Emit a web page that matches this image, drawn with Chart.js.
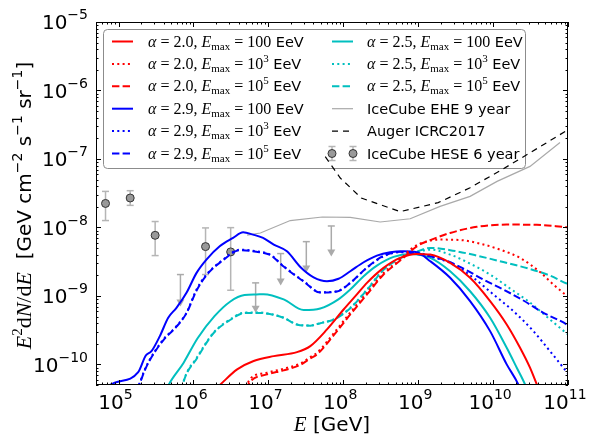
<!DOCTYPE html>
<html><head><meta charset="utf-8">
<script src="https://cdn.jsdelivr.net/npm/chart.js@4/dist/chart.umd.min.js"></script>
<style>html,body{margin:0;padding:0;background:#fff}canvas{display:block}</style>
</head><body>
<canvas id="c" width="590" height="435"></canvas>
<script>
// ---------------- data ----------------
const X_MIN = 5e4, X_MAX = 1e11, Y_MIN = 5e-11, Y_MAX = 1e-5;
const X_TICK_EXP = [5, 6, 7, 8, 9, 10, 11];
const Y_TICK_EXP = [-10, -9, -8, -7, -6, -5];

// alpha = 2.0
const E_a20_100 = [1.91e6, 2.29e6, 3.83e6, 6.36e6, 1.18e7, 2.41e7, 3.63e7, 6.06e7, 1.01e8, 1.52e8, 2.07e8, 3.45e8, 5.75e8, 9.6e8, 1.45e9, 2.67e9, 4.93e9, 9.12e9, 1.52e10, 2.29e10, 3.11e10, 3.83e10, 4.23e10];
const F_a20_100 = [4.27e-11, 5.1e-11, 8.45e-11, 1.12e-10, 1.32e-10, 1.51e-10, 1.85e-10, 3.24e-10, 6.33e-10, 1.05e-9, 1.55e-9, 2.57e-9, 3.59e-9, 4.1e-9, 4.01e-9, 3.03e-9, 1.84e-9, 8.4e-10, 3.83e-10, 1.75e-10, 8.95e-11, 5.1e-11, 3.9e-11];
const E_a20_1e3 = [5.0e6, 5.75e6, 9.6e6, 1.60e7, 2.67e7, 3.63e7, 4.46e7, 7.43e7, 1.24e8, 2.07e8, 3.45e8, 5.75e8, 7.82e8, 1.06e9, 1.96e9, 3.63e9, 6.71e9, 1.24e10, 2.29e10, 4.23e10, 6.36e10, 9.6e10, 1.1e11];
const F_a20_1e3 = [4.6e-11, 6.2e-11, 7.57e-11, 8.65e-11, 1.03e-10, 1.28e-10, 1.48e-10, 2.83e-10, 5.73e-10, 1.11e-9, 2.17e-9, 3.39e-9, 4.74e-9, 5.8e-9, 6.64e-9, 6.55e-9, 5.8e-9, 4.74e-9, 3.59e-9, 2.23e-9, 1.47e-9, 1.01e-9, 9.0e-10];
const E_a20_1e5 = [5.0e6, 5.75e6, 9.6e6, 1.60e7, 2.67e7, 3.63e7, 4.46e7, 7.43e7, 1.24e8, 2.07e8, 3.45e8, 5.75e8, 9.6e8, 1.45e9, 2.67e9, 6.06e9, 1.52e10, 3.83e10, 9.6e10, 1.1e11];
const F_a20_1e5 = [4.32e-11, 5.65e-11, 7.15e-11, 8.18e-11, 9.84e-11, 1.22e-10, 1.40e-10, 2.65e-10, 5.36e-10, 1.05e-9, 2.05e-9, 3.28e-9, 5.3e-9, 6.53e-9, 8.3e-9, 1.02e-8, 1.10e-8, 1.09e-8, 1.01e-8, 1.0e-8];

// alpha = 2.9
const E_a29_100 = [6.7e4, 8.9e4, 1.83e5, 2.31e5, 2.75e5, 3.56e5, 4.6e5, 5.93e5, 8.07e5, 1.10e6, 1.49e6, 2.24e6, 3.38e6, 4.6e6, 6.25e6, 8.49e6, 1.18e7, 1.77e7, 2.67e7, 4.02e7, 6.06e7, 8.65e7, 1.24e8, 1.87e8, 2.81e8, 4.23e8, 6.36e8, 9.6e8, 1.45e9, 2.67e9, 4.93e9, 9.12e9, 1.52e10, 2.17e10, 2.44e10];
const F_a29_100 = [4.7e-11, 5.41e-11, 7.72e-11, 1.35e-10, 1.56e-10, 2.59e-10, 4.8e-10, 6.7e-10, 1.11e-9, 2.17e-9, 3.39e-9, 5.3e-9, 7.03e-9, 8.5e-9, 7.85e-9, 7.03e-9, 5.61e-9, 4.48e-9, 2.65e-9, 1.87e-9, 1.64e-9, 1.78e-9, 2.29e-9, 3.10e-9, 3.88e-9, 4.34e-9, 4.48e-9, 4.34e-9, 3.21e-9, 1.84e-9, 8.4e-10, 3.06e-10, 1.0e-10, 5.1e-11, 3.66e-11];
const E_a29_1e3 = [1.74e5, 1.92e5, 2.24e5, 2.61e5, 3.95e5, 5.93e5, 8.07e5, 1.10e6, 1.49e6, 2.49e6, 4.14e6, 6.92e6, 1.06e7, 1.60e7, 2.96e7, 4.93e7, 8.24e7, 1.24e8, 2.07e8, 3.45e8, 5.75e8, 9.6e8, 1.45e9, 2.96e9, 5.46e9, 1.01e10, 1.87e10, 3.45e10, 5.75e10, 8.65e10, 1.05e11];
const F_a29_1e3 = [4.32e-11, 5.41e-11, 8.45e-11, 1.18e-10, 2.31e-10, 3.62e-10, 5.67e-10, 1.24e-9, 2.05e-9, 3.39e-9, 4.74e-9, 4.48e-9, 4.01e-9, 2.71e-9, 1.64e-9, 1.13e-9, 1.17e-9, 1.55e-9, 2.57e-9, 3.79e-9, 4.34e-9, 4.3e-9, 3.79e-9, 2.87e-9, 1.84e-9, 1.05e-9, 5.98e-10, 3.06e-10, 1.56e-10, 8.95e-11, 6.9e-11];
const E_a29_1e5 = [1.74e5, 1.92e5, 2.24e5, 2.61e5, 3.95e5, 5.93e5, 8.07e5, 1.10e6, 1.49e6, 2.49e6, 4.14e6, 6.92e6, 1.06e7, 1.60e7, 2.96e7, 4.93e7, 8.24e7, 1.24e8, 2.07e8, 3.45e8, 5.75e8, 1.06e9, 2.17e9, 4.02e9, 7.43e9, 1.37e10, 2.54e10, 4.69e10, 9.6e10, 1.1e11];
const F_a29_1e5 = [4.2e-11, 5.3e-11, 8.2e-11, 1.15e-10, 2.25e-10, 3.55e-10, 5.6e-10, 1.2e-9, 2.0e-9, 3.33e-9, 4.65e-9, 4.42e-9, 3.95e-9, 2.68e-9, 1.62e-9, 1.12e-9, 1.16e-9, 1.55e-9, 2.6e-9, 3.85e-9, 4.4e-9, 4.01e-9, 3.39e-9, 2.51e-9, 1.73e-9, 1.24e-9, 8.57e-10, 5.67e-10, 3.83e-10, 3.4e-10];

// alpha = 2.5
const E_a25_100 = [4.24e5, 4.69e5, 7.4e5, 1.13e6, 1.91e6, 3.11e6, 4.8e6, 6.92e6, 8.65e6, 1.60e7, 2.96e7, 4.93e7, 8.6e7, 1.24e8, 1.87e8, 2.81e8, 4.69e8, 7.82e8, 1.45e9, 2.67e9, 4.93e9, 9.12e9, 1.52e10, 2.07e10, 2.67e10, 3.0e10];
const F_a25_100 = [4.04e-11, 5.1e-11, 1.06e-10, 2.39e-10, 5.06e-10, 8.3e-10, 1.03e-9, 1.05e-9, 1.06e-9, 8.9e-10, 6.22e-10, 6.55e-10, 8.9e-10, 1.24e-9, 1.94e-9, 2.77e-9, 3.72e-9, 4.1e-9, 3.59e-9, 2.29e-9, 1.17e-9, 4.8e-10, 1.75e-10, 8.95e-11, 5.1e-11, 3.66e-11];
const E_a25_1e3 = [6.9e5, 7.43e5, 1.11e6, 1.85e6, 3.08e6, 4.9e6, 6.92e6, 8.65e6, 1.58e7, 2.44e7, 3.63e7, 4.93e7, 7.43e7, 1.24e8, 2.07e8, 3.45e8, 6.36e8, 9.2e8, 1.45e9, 2.67e9, 4.93e9, 9.12e9, 1.69e10, 3.11e10, 5.75e10, 9.6e10, 1.1e11];
const F_a25_1e3 = [4.04e-11, 5.85e-11, 1.26e-10, 2.9e-10, 4.53e-10, 5.73e-10, 5.73e-10, 5.67e-10, 4.84e-10, 3.83e-10, 3.7e-10, 4.02e-10, 4.53e-10, 6.7e-10, 1.24e-9, 2.43e-9, 3.79e-9, 4.3e-9, 4.74e-9, 4.01e-9, 2.96e-9, 2.05e-9, 1.28e-9, 8.0e-10, 4.53e-10, 2.83e-10, 2.5e-10];
const E_a25_1e5 = [6.9e5, 7.43e5, 1.11e6, 1.85e6, 3.08e6, 4.9e6, 6.92e6, 8.65e6, 1.58e7, 2.44e7, 3.63e7, 4.93e7, 7.43e7, 1.24e8, 2.07e8, 3.45e8, 6.36e8, 9.2e8, 1.45e9, 2.67e9, 6.06e9, 1.37e10, 2.96e10, 5.75e10, 9.6e10, 1.1e11];
const F_a25_1e5 = [3.9e-11, 5.7e-11, 1.22e-10, 2.85e-10, 4.45e-10, 5.65e-10, 5.65e-10, 5.6e-10, 4.8e-10, 3.8e-10, 3.68e-10, 4.0e-10, 4.5e-10, 6.6e-10, 1.22e-9, 2.4e-9, 3.75e-9, 4.35e-9, 5.02e-9, 4.66e-9, 3.88e-9, 3.12e-9, 2.51e-9, 1.98e-9, 1.52e-9, 1.45e-9];

// IceCube EHE 9 year limit
const E_EHE = [5.2e6, 7.82e6, 1.96e7, 5.25e7, 1.24e8, 3.11e8, 7.82e8, 1.96e9, 4.93e9, 1.13e10, 3.11e10, 7.82e10];
const F_EHE = [7.73e-9, 8.3e-9, 1.26e-8, 1.42e-8, 1.40e-8, 1.20e-8, 1.34e-8, 2.03e-8, 2.84e-8, 4.70e-8, 7.78e-8, 1.74e-7];
// Auger ICRC2017 limit
const E_AUG = [5.75e7, 9.12e7, 1.74e8, 5.75e8, 1.85e9, 4.93e9, 1.24e10, 2.96e10, 1e11];
const F_AUG = [1.08e-7, 5.27e-8, 2.69e-8, 1.70e-8, 2.30e-8, 3.80e-8, 6.73e-8, 1.19e-7, 2.67e-7];
// IceCube HESE 6 year: points with error bars
const E_HESE = [6.7e4, 1.43e5, 3.08e5, 1.45e6, 3.14e6];
const F_HESE = [2.24e-8, 2.69e-8, 7.67e-9, 5.25e-9, 4.39e-9];
const F_HESE_HI = [3.36e-8, 3.44e-8, 1.22e-8, 9.84e-9, 9.93e-9];
const F_HESE_LO = [1.26e-8, 2.10e-8, 3.88e-9, 2.05e-9, 1.21e-9];
// IceCube HESE 6 year: upper limits (cap value, arrow tip value)
const E_UL = [6.7e5, 6.76e6, 1.46e7, 3.21e7, 6.92e7];
const F_UL_TOP = [2.05e-9, 1.55e-9, 4.15e-9, 6.2e-9, 1.05e-8];
const F_UL_TIP = [7.0e-10, 5.7e-10, 1.42e-9, 2.19e-9, 3.75e-9];

// ---------------- styles ----------------
const RED = '#ff0000', BLUE = '#0000ff', CYAN = '#00bfbf', GRAY = '#a9a9a9';
const DASHED = [7.4, 3.2], DOTTED = [2, 3.3];
const SERIF = '"Liberation Serif"', SANS = '"DejaVu Sans"';

function modelLabel(alpha, emax, exp) {
  const p = [
    ['α', 'italic 16px ' + SERIF, 0], [' = ' + alpha + ', ', '16px ' + SERIF, 0],
    ['E', 'italic 16px ' + SERIF, 0], ['max', '11px ' + SERIF, 3],
    [' = ' + emax, '16px ' + SERIF, 0]];
  if (exp) p.push([exp, '11px ' + SERIF, -7]);
  p.push([' EeV', '14.5px ' + SANS, 0]);
  return p;
}

const curves = [
  {E: E_a20_100, F: F_a20_100, color: RED, dash: [], w: 2, label: modelLabel('2.0', '100')},
  {E: E_a20_1e3, F: F_a20_1e3, color: RED, dash: DOTTED, w: 2, label: modelLabel('2.0', '10', '3')},
  {E: E_a20_1e5, F: F_a20_1e5, color: RED, dash: DASHED, w: 2, label: modelLabel('2.0', '10', '5')},
  {E: E_a29_100, F: F_a29_100, color: BLUE, dash: [], w: 2, label: modelLabel('2.9', '100')},
  {E: E_a29_1e3, F: F_a29_1e3, color: BLUE, dash: DOTTED, w: 2, label: modelLabel('2.9', '10', '3')},
  {E: E_a29_1e5, F: F_a29_1e5, color: BLUE, dash: DASHED, w: 2, label: modelLabel('2.9', '10', '5')},
  {E: E_a25_100, F: F_a25_100, color: CYAN, dash: [], w: 2, label: modelLabel('2.5', '100')},
  {E: E_a25_1e3, F: F_a25_1e3, color: CYAN, dash: DOTTED, w: 2, label: modelLabel('2.5', '10', '3')},
  {E: E_a25_1e5, F: F_a25_1e5, color: CYAN, dash: DASHED, w: 2, label: modelLabel('2.5', '10', '5')},
  {E: E_EHE, F: F_EHE, color: GRAY, dash: [], w: 1.2, straight: true, label: [['IceCube EHE 9 year', '14.5px ' + SANS, 0]]},
  {E: E_AUG, F: F_AUG, color: '#000', dash: [6, 5], w: 1.2, straight: true, label: [['Auger ICRC2017', '14.5px ' + SANS, 0]]}
];
const HESE_LABEL = [['IceCube HESE 6 year', '14.5px ' + SANS, 0]];

// ---------------- helpers ----------------
function richWidth(ctx, parts) {
  let w = 0; for (const [t, f] of parts) { ctx.font = f; w += ctx.measureText(t).width; } return w;
}
function drawRich(ctx, x, y, parts) {
  let cx = x;
  for (const [t, f, dy] of parts) { ctx.font = f; ctx.fillText(t, cx, y + dy); cx += ctx.measureText(t).width; }
}
function line(ctx, x1, y1, x2, y2) { ctx.beginPath(); ctx.moveTo(x1, y1); ctx.lineTo(x2, y2); ctx.stroke(); }
function errBar(ctx, px, p1, p2, cap) {
  line(ctx, px, p1, px, p2); line(ctx, px - cap, p1, px + cap, p1); line(ctx, px - cap, p2, px + cap, p2);
}
function marker(ctx, px, py) {
  ctx.beginPath(); ctx.arc(px, py, 4, 0, Math.PI * 2);
  ctx.fillStyle = '#999'; ctx.fill(); ctx.lineWidth = 1; ctx.strokeStyle = '#333'; ctx.stroke();
}

// ---------------- plugins ----------------
const underPlugin = {
  id: 'under',
  beforeDatasetsDraw(chart) {
    const {ctx, chartArea: a, scales: {x, y}} = chart;
    ctx.save();
    ctx.beginPath(); ctx.rect(a.left, a.top, a.right - a.left, a.bottom - a.top); ctx.clip();
    // HESE error bars
    ctx.strokeStyle = '#b5b5b5'; ctx.lineWidth = 1.5; ctx.setLineDash([]);
    E_HESE.forEach((e, i) => {
      const px = x.getPixelForValue(e);
      errBar(ctx, px, y.getPixelForValue(F_HESE_HI[i]), y.getPixelForValue(F_HESE_LO[i]), 3.5);
    });
    // upper limits
    E_UL.forEach((e, i) => {
      const px = x.getPixelForValue(e), pt = y.getPixelForValue(F_UL_TOP[i]), pb = y.getPixelForValue(F_UL_TIP[i]);
      ctx.strokeStyle = '#aaaaaa'; ctx.fillStyle = '#aaaaaa';
      line(ctx, px, pt, px, pb - 4); line(ctx, px - 3.5, pt, px + 3.5, pt);
      ctx.beginPath(); ctx.moveTo(px - 4, pb - 7); ctx.lineTo(px + 4, pb - 7); ctx.lineTo(px, pb); ctx.closePath(); ctx.fill();
    });
    ctx.restore();

    // legend box
    const L = {x: 103, y: 29, w: 422, h: 139, r: 4};
    ctx.save();
    ctx.beginPath(); ctx.roundRect(L.x + 0.5, L.y + 0.5, L.w, L.h, L.r);
    ctx.fillStyle = 'rgba(255,255,255,0.85)'; ctx.fill();
    ctx.strokeStyle = '#8c8c8c'; ctx.lineWidth = 1; ctx.stroke();
    const rows = i => 41.5 + i * 22.4;
    const cols = [{s0: 112, s1: 133, t: 148}, {s0: 332, s1: 353, t: 367}];
    const order = [[0, 0], [1, 0], [2, 0], [3, 0], [4, 0], [5, 0], [6, 1], [7, 1], [8, 1], [9, 1], [10, 1]];
    ctx.fillStyle = '#000'; ctx.textBaseline = 'alphabetic'; ctx.textAlign = 'left';
    order.forEach(([ci, col], k) => {
      const c = curves[ci], cy = rows(k % 6), C = cols[col];
      ctx.strokeStyle = c.color; ctx.lineWidth = c.w; ctx.setLineDash(c.dash); ctx.lineCap = 'butt';
      line(ctx, C.s0, cy, C.s1, cy); ctx.setLineDash([]);
      ctx.fillStyle = '#000'; drawRich(ctx, C.t, cy + 5, c.label);
    });
    // HESE legend handle
    const hy = rows(5), C = cols[1];
    [C.s0, C.s1].forEach(px => {
      ctx.strokeStyle = '#b5b5b5'; ctx.lineWidth = 1.5; errBar(ctx, px, hy - 7, hy + 7, 3.5);
      marker(ctx, px, hy);
    });
    ctx.fillStyle = '#000'; drawRich(ctx, C.t, hy + 5, HESE_LABEL);
    ctx.restore();
  }
};

const axesPlugin = {
  id: 'axes',
  afterDraw(chart) {
    const {ctx, chartArea: a, scales: {x, y}} = chart;
    ctx.save();
    ctx.strokeStyle = '#000'; ctx.lineWidth = 1; ctx.setLineDash([]);
    ctx.strokeRect(a.left + 0.5, a.top + 0.5, a.right - a.left - 1, a.bottom - a.top - 1);
    // ticks (inward, all four sides)
    for (let d = 4; d <= 11; d++) for (let m = 1; m <= 9; m++) {
      const v = m * Math.pow(10, d);
      if (v < X_MIN * 0.999 || v > X_MAX * 1.001) continue;
      const px = Math.round(x.getPixelForValue(v)) + 0.5, L = m === 1 ? 5 : 2.5;
      line(ctx, px, a.bottom, px, a.bottom - L); line(ctx, px, a.top, px, a.top + L);
    }
    for (let d = -11; d <= -5; d++) for (let m = 1; m <= 9; m++) {
      const v = m * Math.pow(10, d);
      if (v < Y_MIN * 0.999 || v > Y_MAX * 1.001) continue;
      const py = Math.round(y.getPixelForValue(v)) + 0.5, L = m === 1 ? 5 : 2.5;
      line(ctx, a.left, py, a.left + L, py); line(ctx, a.right, py, a.right - L, py);
    }
    // tick labels
    ctx.fillStyle = '#000'; ctx.textAlign = 'left'; ctx.textBaseline = 'alphabetic';
    const lab = e => [['10', '20px ' + SANS, 0], [String(e).replace('-', '\u2212'), '14px ' + SANS, -10]];
    X_TICK_EXP.forEach(e => {
      const parts = lab(e), w = richWidth(ctx, parts), px = x.getPixelForValue(Math.pow(10, e));
      drawRich(ctx, px - w / 2 - 3, 408.5, parts);
    });
    Y_TICK_EXP.forEach(e => {
      const parts = lab(e), w = richWidth(ctx, parts), py = y.getPixelForValue(Math.pow(10, e));
      drawRich(ctx, a.left - 8 - w, py + 7.3, parts);
    });
    // axis titles
    const xt = [['E', 'italic 21px ' + SERIF, 0], [' [GeV]', '20px ' + SANS, 0]];
    drawRich(ctx, (a.left + a.right) / 2 - richWidth(ctx, xt) / 2, 431, xt);
    const yt = [['E', 'italic 22px ' + SERIF, 0], ['2', '15px ' + SERIF, -9], ['d', '22px ' + SERIF, 0],
      ['N', 'italic 22px ' + SERIF, 0], ['/', '22px ' + SERIF, 0], ['d', '22px ' + SERIF, 0], ['E', 'italic 22px ' + SERIF, 0],
      ['  [GeV cm', '20px ' + SANS, 0], ['\u22122', '14px ' + SANS, -9], [' s', '20px ' + SANS, 0],
      ['\u22121', '14px ' + SANS, -9], [' sr', '20px ' + SANS, 0], ['\u22121', '14px ' + SANS, -9], [']', '20px ' + SANS, 0]];
    ctx.translate(31, (a.top + a.bottom) / 2 + 2);
    ctx.rotate(-Math.PI / 2);
    drawRich(ctx, -richWidth(ctx, yt) / 2, 0, yt);
    ctx.restore();
  }
};

// ---------------- chart ----------------
const datasets = curves.map(c => ({
  data: c.E.map((e, i) => ({x: e, y: c.F[i]})),
  borderColor: c.color, borderWidth: c.w, borderDash: c.dash, borderCapStyle: 'butt',
  pointRadius: 0, fill: false,
  cubicInterpolationMode: c.straight ? 'default' : 'monotone', tension: 0
}));
datasets.push({
  data: E_HESE.map((e, i) => ({x: e, y: F_HESE[i]})),
  showLine: false, pointRadius: 4, pointBackgroundColor: '#999', pointBorderColor: '#333', pointBorderWidth: 1
});

new Chart(document.getElementById('c'), {
  type: 'line',
  data: {datasets},
  options: {
    responsive: false, animation: false, devicePixelRatio: 1,
    layout: {padding: {left: 96, right: 22, top: 22, bottom: 50}},
    plugins: {legend: {display: false}, tooltip: {enabled: false}},
    scales: {
      x: {type: 'logarithmic', min: X_MIN, max: X_MAX, display: false},
      y: {type: 'logarithmic', min: Y_MIN, max: Y_MAX, display: false}
    }
  },
  plugins: [underPlugin, axesPlugin]
});
</script>
</body></html>
